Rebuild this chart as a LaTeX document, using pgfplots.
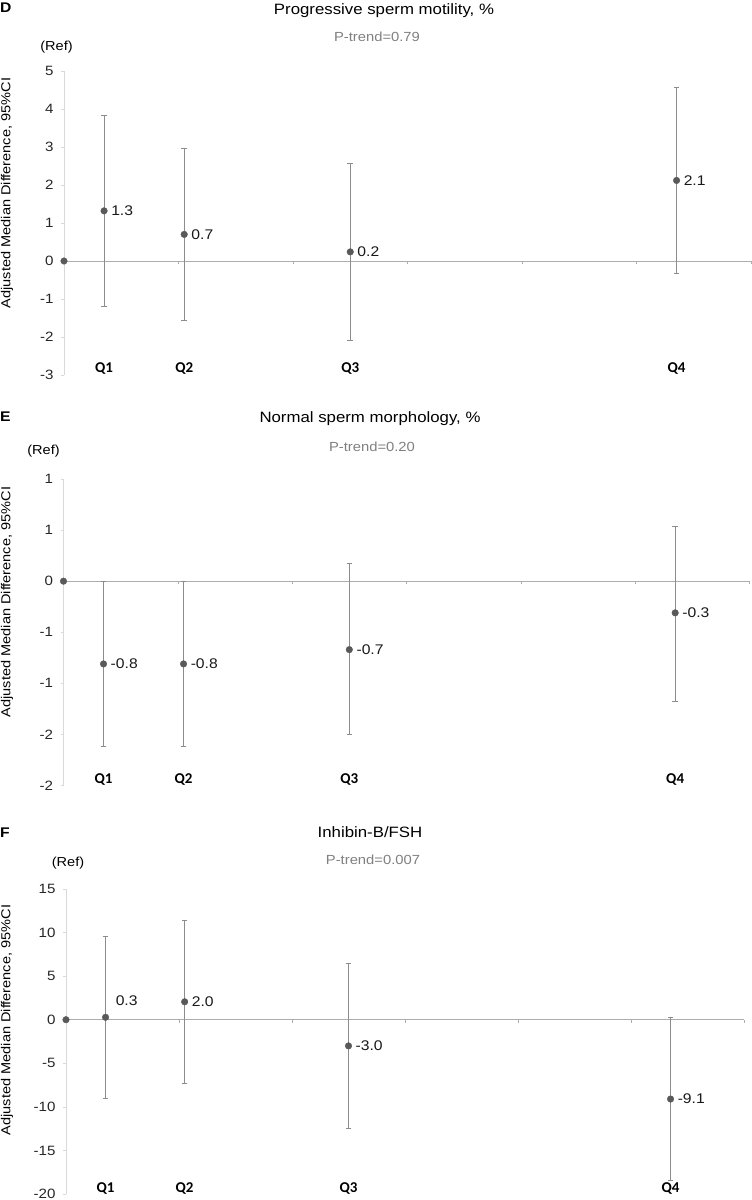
\documentclass[border=0pt]{standalone}
\usepackage{fontspec}
\setmainfont{Liberation Sans}[FakeStretch=1.12]
\newfontfamily\qfont{Carlito}
\usepackage{pgfplots}
\usepackage{pgfplotstable}
\pgfplotsset{compat=1.18}
\definecolor{ptgray}{HTML}{595959}
\definecolor{errgray}{HTML}{8C8C8C}
\definecolor{axgray}{HTML}{ADADAD}
\definecolor{yaxgray}{HTML}{D9D9D9}
\definecolor{txtgray}{HTML}{808080}

\pgfplotstableread{
x y lo hi lab
0.35 1.32 -1.19 3.83 1.3
1.05 0.70 -1.55 2.97 0.7
2.50 0.24 -2.08 2.56 0.2
5.35 2.12 -0.33 4.57 2.1
}\dataD
\pgfplotstableread{
x y lo hi lab
0.35 -0.81 -1.62 0.00 -0.8
1.05 -0.81 -1.62 0.00 -0.8
2.50 -0.67 -1.50 0.17 -0.7
5.35 -0.31 -1.18 0.54 -0.3
}\dataE
\pgfplotstableread{
x y lo hi lab
1.05 2.06 -7.30 11.40 2.0
2.50 -3.00 -12.45 6.47 -3.0
5.35 -9.10 -18.40 0.23 -9.1
}\dataF
\pgfplotstableread{
x y lo hi lab
0.35 0.28 -9.00 9.60 0.3
}\dataFa
\pgfplotstableread{
x y
0 0
}\refpt

\newcommand{\fs}[1]{\fontsize{#1}{#1}\selectfont}

\pgfplotsset{
  panel/.style={
    scale only axis, clip=false,
    xmin=0, xmax=6,
    axis x line*=middle, axis y line*=left,
    xtick={0,...,6}, xticklabels={},
    x axis line style={draw=axgray, line width=0.8pt},
    y axis line style={draw=yaxgray, line width=0.8pt},
    xtick style={draw=axgray, line width=0.6pt},
    ytick style={draw=yaxgray, line width=0.6pt},
    major tick length=3pt, tick align=outside,
    yticklabel style={font=\fs{13.5}, text=black!85, xshift=-4pt},
  },
  ci/.style={only marks, mark=*, mark size=3.3pt, color=ptgray,
    error bars/.cd, y dir=both, y explicit,
    error bar style={errgray, line width=0.8pt},
    error mark options={rotate=90, errgray, mark size=2.8pt, line width=0.8pt}},
  labs/.style={draw=none, mark=none, point meta=explicit symbolic,
    nodes near coords,
    every node near coord/.append style={anchor=west, font=\fs{14}, text=black!90, inner sep=1pt, xshift=6pt}},
}

\begin{document}
\begin{tikzpicture}
\useasboundingbox (0pt,0pt) rectangle (752pt,-1200pt);

% ---------- Panel D ----------
\node[anchor=base west, inner sep=0pt, font=\bfseries\fs{14}] at (0pt,-12pt) {D};
\node[anchor=base, font=\fs{15}] at (384pt,-14pt) {Progressive sperm motility, \%};
\node[anchor=base, font=\fs{13.2}, text=txtgray] at (377pt,-41.7pt) {P-trend=0.79};
\node[anchor=base, font=\fs{13}] at (56.5pt,-50pt) {(Ref)};
\node[rotate=90, font=\fs{13}] at (7pt,-193pt) {Adjusted Median Difference, 95\%CI};
\begin{axis}[panel, at={(64pt,-375pt)}, anchor=south west, width=687pt, height=304pt,
  ymin=-3, ymax=5, ytick={-3,...,5}, yticklabels={-3,-2,-1,0,1,2,3,4,5}]
\addplot[ci] table[x=x, y=y, y error plus expr=\thisrow{hi}-\thisrow{y}, y error minus expr=\thisrow{y}-\thisrow{lo}] {\dataD};
\addplot[only marks, mark=*, mark size=3.3pt, color=ptgray] table[x=x,y=y] {\refpt};
\addplot[labs] table[x=x, y=y, meta=lab] {\dataD};
\node[font=\qfont\bfseries\fs{15}] at (axis cs:0.35,-2.82) {Q1};
\node[font=\qfont\bfseries\fs{15}] at (axis cs:1.05,-2.82) {Q2};
\node[font=\qfont\bfseries\fs{15}] at (axis cs:2.50,-2.82) {Q3};
\node[font=\qfont\bfseries\fs{15}] at (axis cs:5.35,-2.82) {Q4};
\end{axis}

% ---------- Panel E ----------
\node[anchor=base west, inner sep=0pt, font=\bfseries\fs{14}] at (0pt,-421.7pt) {E};
\node[anchor=base, font=\fs{15}] at (370pt,-422.7pt) {Normal sperm morphology, \%};
\node[anchor=base, font=\fs{13.2}, text=txtgray] at (372pt,-451.7pt) {P-trend=0.20};
\node[anchor=base, font=\fs{13}] at (43.5pt,-454pt) {(Ref)};
\node[rotate=90, font=\fs{13}] at (7pt,-602pt) {Adjusted Median Difference, 95\%CI};
\begin{axis}[panel, at={(63.5pt,-785.5pt)}, anchor=south west, width=686pt, height=306.5pt,
  ymin=-2, ymax=1, ytick={-2,-1.5,-1,-0.5,0,0.5,1}, yticklabels={-2,-2,-1,-1,0,1,1}]
\addplot[ci] table[x=x, y=y, y error plus expr=\thisrow{hi}-\thisrow{y}, y error minus expr=\thisrow{y}-\thisrow{lo}] {\dataE};
\addplot[only marks, mark=*, mark size=3.3pt, color=ptgray] table[x=x,y=y] {\refpt};
\addplot[labs] table[x=x, y=y, meta=lab] {\dataE};
\node[font=\qfont\bfseries\fs{15}] at (axis cs:0.35,-1.94) {Q1};
\node[font=\qfont\bfseries\fs{15}] at (axis cs:1.05,-1.94) {Q2};
\node[font=\qfont\bfseries\fs{15}] at (axis cs:2.50,-1.94) {Q3};
\node[font=\qfont\bfseries\fs{15}] at (axis cs:5.35,-1.94) {Q4};
\end{axis}

% ---------- Panel F ----------
\node[anchor=base west, inner sep=0pt, font=\bfseries\fs{14}] at (0pt,-837pt) {F};
\node[anchor=base, font=\fs{15}] at (370pt,-837.3pt) {Inhibin-B/FSH};
\node[anchor=base, font=\fs{13.2}, text=txtgray] at (373pt,-864pt) {P-trend=0.007};
\node[anchor=base, font=\fs{13}] at (68pt,-866pt) {(Ref)};
\node[rotate=90, font=\fs{13}] at (7pt,-1020pt) {Adjusted Median Difference, 95\%CI};
\begin{axis}[panel, at={(66pt,-1194pt)}, anchor=south west, width=678pt, height=305pt,
  ymin=-20, ymax=15, ytick={-20,-15,...,15}, yticklabels={-20,-15,-10,-5,0,5,10,15}]
\addplot[ci] table[x=x, y=y, y error plus expr=\thisrow{hi}-\thisrow{y}, y error minus expr=\thisrow{y}-\thisrow{lo}] {\dataF};
\addplot[ci] table[x=x, y=y, y error plus expr=\thisrow{hi}-\thisrow{y}, y error minus expr=\thisrow{y}-\thisrow{lo}] {\dataFa};
\addplot[only marks, mark=*, mark size=3.3pt, color=ptgray] table[x=x,y=y] {\refpt};
\addplot[labs] table[x=x, y=y, meta=lab] {\dataF};
\addplot[labs, every node near coord/.append style={yshift=17pt, xshift=3pt}] table[x=x, y=y, meta=lab] {\dataFa};
\node[font=\qfont\bfseries\fs{15}] at (axis cs:0.35,-19.4) {Q1};
\node[font=\qfont\bfseries\fs{15}] at (axis cs:1.05,-19.4) {Q2};
\node[font=\qfont\bfseries\fs{15}] at (axis cs:2.50,-19.4) {Q3};
\node[font=\qfont\bfseries\fs{15}] at (axis cs:5.35,-19.4) {Q4};
\end{axis}
\end{tikzpicture}
\end{document}
